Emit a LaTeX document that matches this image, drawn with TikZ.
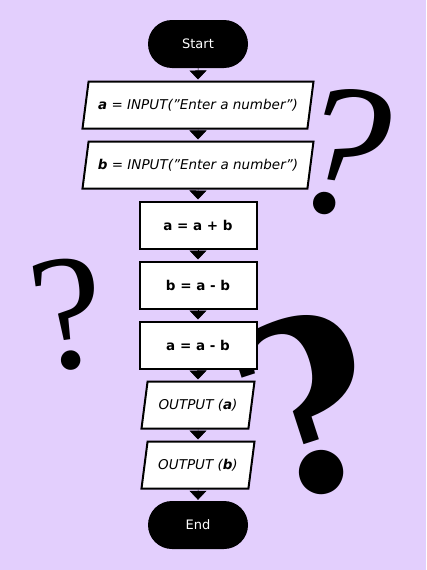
\documentclass[tikz,border=0pt]{standalone}
\usepackage{fontspec}
\setmainfont{DejaVu Sans}
\newfontfamily\qserif{Liberation Serif}
\newfontfamily\qheavy{DejaVu Serif}
\usetikzlibrary{arrows.meta}
\usetikzlibrary{shapes}

\begin{document}
\begin{tikzpicture}[x=1pt,y=-1pt,
    terminal/.style={rectangle,
                     fill=black,
                     rounded corners=24pt,
                     minimum width=100pt,
                     minimum height=48pt,
                     text=white,
                     font=\fontsize{13}{15}\selectfont},
    iobox/.style={trapezium,
                  trapezium left angle=72,
                  trapezium right angle=108,
                  trapezium stretches body,
                  draw,
                  line width=2pt,
                  fill=white,
                  inner xsep=2pt,
                  minimum height=47pt,
                  font=\fontsize{13.5}{15}\selectfont\itshape},
    procbox/.style={rectangle,
                    draw,
                    line width=2pt,
                    fill=white,
                    minimum width=117pt,
                    minimum height=47pt,
                    font=\fontsize{13.5}{15}\selectfont\bfseries},
    qmark/.style={font=\qserif\fontsize{#1}{#1}\selectfont},
    ptr/.style={-{Triangle[width=17pt,length=9pt]},
                line width=0.5pt,
                shorten >=1pt}]
\definecolor{lavender2}{RGB}{227,207,253};
\fill [lavender2] (0,0) rectangle (426,570);
\useasboundingbox (0,0) rectangle (426,570);
% question marks in the back
\node [qmark=190,
       rotate=-8] (qtop) at (340,152) {\itshape ?};
\node [qmark=165,
       rotate=8] (qleft) at (68,314) {?};
\node [qmark=238,
       rotate=18] (qbig) at (308,406) {\qheavy\bfseries ?};
% flow chart
\node [terminal] (start) at (198,44) {Start};
\node [iobox,
       minimum width=231pt] (ina) at (198,105) {\textbf{a} = INPUT("Enter a number")};
\node [iobox,
       minimum width=231pt] (inb) at (198,165) {\textbf{b} = INPUT("Enter a number")};
\node [procbox] (add) at (198,225) {a = a + b};
\node [procbox] (suba) at (198,285) {b = a - b};
\node [procbox] (subb) at (198,345) {a = a - b};
\node [iobox,
       minimum width=113pt] (outa) at (198,405) {OUTPUT (\textbf{a})};
\node [iobox,
       minimum width=113pt] (outb) at (198,465) {OUTPUT (\textbf{b})};
\node [terminal] (stop) at (198,525) {End};
\draw [ptr] (start.south) -- (ina.north);
\draw [ptr] (ina.south) -- (inb.north);
\draw [ptr] (inb.south) -- (add.north);
\draw [ptr] (add.south) -- (suba.north);
\draw [ptr] (suba.south) -- (subb.north);
\draw [ptr] (subb.south) -- (outa.north);
\draw [ptr] (outa.south) -- (outb.north);
\draw [ptr] (outb.south) -- (stop.north);
\end{tikzpicture}
\end{document}
